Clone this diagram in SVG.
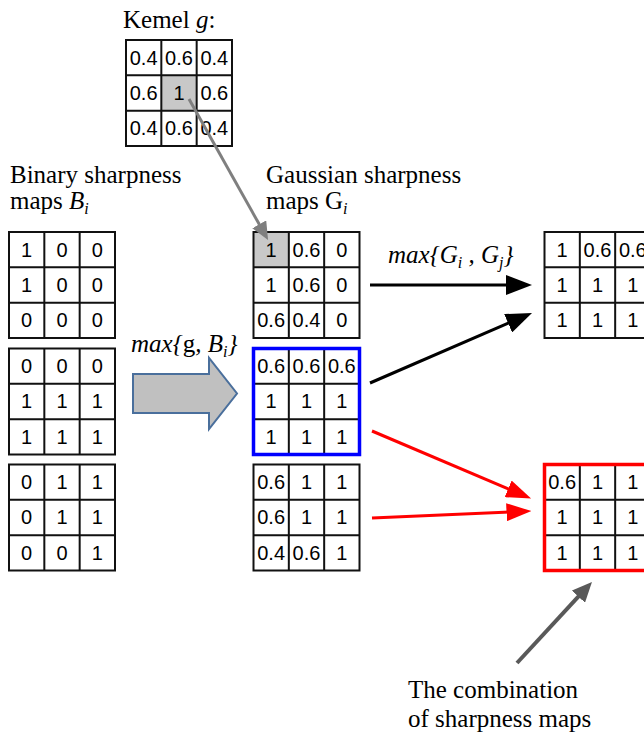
<svg xmlns="http://www.w3.org/2000/svg" xmlns:xlink="http://www.w3.org/1999/xlink" width="644" height="734" viewBox="0 0 644 734">
  <style>
    .lbl { font-family: "Liberation Serif", "Times New Roman", serif; font-size: 25px; fill: #000; }
    .it { font-style: italic; }
    .num { font-family: "Liberation Sans", Arial, sans-serif; font-size: 20px; fill: #000; text-anchor: middle; }
    .gl { fill: none; stroke: #111; stroke-width: 2; }
    .hl { fill: #c8c8c8; }
    .blue { fill: none; stroke: #0000ff; stroke-width: 3.5; }
    .red { fill: none; stroke: #ff0000; stroke-width: 3.5; }
    .k { stroke: #000; stroke-width: 3; fill: none; }
    .r { stroke: #ff0000; stroke-width: 3; fill: none; }
    .g { stroke: #7f7f7f; stroke-width: 3; fill: none; }
    .dg { stroke: #595959; stroke-width: 4; fill: none; }
  </style>
  <defs>
    <!-- 3x3 grid frame, 106 px square -->
    <g id="grid">
      <rect class="gl" x="0" y="0" width="106" height="106"/>
      <path class="gl" d="M35.33,0V106M70.67,0V106M0,35.33H106M0,70.67H106"/>
    </g>
    <marker id="ah-k" viewBox="0 0 26 20" markerWidth="26" markerHeight="20" refX="4" refY="10" orient="auto" markerUnits="userSpaceOnUse">
      <path d="M0,0 L26,10 L0,20 z" fill="#000"/>
    </marker>
    <marker id="ah-r" viewBox="0 0 25 18" markerWidth="25" markerHeight="18" refX="4" refY="9" orient="auto" markerUnits="userSpaceOnUse">
      <path d="M0,0 L25,9 L0,18 z" fill="#ff0000"/>
    </marker>
    <marker id="ah-g" viewBox="0 0 18 16" markerWidth="18" markerHeight="16" refX="4" refY="8" orient="auto" markerUnits="userSpaceOnUse">
      <path d="M0,0 L18,8 L0,16 z" fill="#7f7f7f"/>
    </marker>
    <marker id="ah-dg" viewBox="0 0 20 18" markerWidth="20" markerHeight="18" refX="4" refY="9" orient="auto" markerUnits="userSpaceOnUse">
      <path d="M0,0 L20,9 L0,18 z" fill="#595959"/>
    </marker>
  </defs>
  <rect x="0" y="0" width="644" height="734" fill="#fff"/>

  <!-- labels -->
  <g id="labels">
    <text class="lbl" x="123" y="28">Kemel <tspan class="it">g</tspan>:</text>
    <text class="lbl" x="10" y="183">Binary sharpness</text>
    <text class="lbl" x="10" y="209">maps <tspan class="it">B</tspan><tspan class="it" font-size="16" dy="5">i</tspan></text>
    <text class="lbl" x="266" y="183">Gaussian sharpness</text>
    <text class="lbl" x="266" y="209">maps G<tspan class="it" font-size="16" dy="5">i</tspan></text>
    <text class="lbl it" x="131" y="352">max{<tspan font-style="normal">g</tspan>, B<tspan font-size="16" dy="5">i</tspan><tspan dy="-5">}</tspan></text>
    <text class="lbl it" x="388" y="263">max{G<tspan font-size="16" dy="5">i</tspan><tspan dy="-5"> , G</tspan><tspan font-size="16" dy="5">j</tspan><tspan dy="-5">}</tspan></text>
    <text class="lbl" x="408" y="698">The combination</text>
    <text class="lbl" x="408" y="727">of sharpness maps</text>
  </g>

  <!-- kernel g -->
  <g id="kernel" transform="translate(126,40)">
    <rect class="hl" x="35.33" y="35.33" width="35.33" height="35.33"/>
    <use xlink:href="#grid"/>
    <text class="num" x="17.67" y="24.5">0.4</text><text class="num" x="53" y="24.5">0.6</text><text class="num" x="88.33" y="24.5">0.4</text>
    <text class="num" x="17.67" y="59.8">0.6</text><text class="num" x="53" y="59.8">1</text><text class="num" x="88.33" y="59.8">0.6</text>
    <text class="num" x="17.67" y="95.2">0.4</text><text class="num" x="53" y="95.2">0.6</text><text class="num" x="88.33" y="95.2">0.4</text>
  </g>

  <!-- binary sharpness maps -->
  <g id="B1" transform="translate(9,232)">
    <use xlink:href="#grid"/>
    <text class="num" x="17.67" y="24.5">1</text><text class="num" x="53" y="24.5">0</text><text class="num" x="88.33" y="24.5">0</text>
    <text class="num" x="17.67" y="59.8">1</text><text class="num" x="53" y="59.8">0</text><text class="num" x="88.33" y="59.8">0</text>
    <text class="num" x="17.67" y="95.2">0</text><text class="num" x="53" y="95.2">0</text><text class="num" x="88.33" y="95.2">0</text>
  </g>
  <g id="B2" transform="translate(9,348.5)">
    <use xlink:href="#grid"/>
    <text class="num" x="17.67" y="24.5">0</text><text class="num" x="53" y="24.5">0</text><text class="num" x="88.33" y="24.5">0</text>
    <text class="num" x="17.67" y="59.8">1</text><text class="num" x="53" y="59.8">1</text><text class="num" x="88.33" y="59.8">1</text>
    <text class="num" x="17.67" y="95.2">1</text><text class="num" x="53" y="95.2">1</text><text class="num" x="88.33" y="95.2">1</text>
  </g>
  <g id="B3" transform="translate(9,464.5)">
    <use xlink:href="#grid"/>
    <text class="num" x="17.67" y="24.5">0</text><text class="num" x="53" y="24.5">1</text><text class="num" x="88.33" y="24.5">1</text>
    <text class="num" x="17.67" y="59.8">0</text><text class="num" x="53" y="59.8">1</text><text class="num" x="88.33" y="59.8">1</text>
    <text class="num" x="17.67" y="95.2">0</text><text class="num" x="53" y="95.2">0</text><text class="num" x="88.33" y="95.2">1</text>
  </g>

  <!-- gaussian sharpness maps -->
  <g id="G1" transform="translate(253.5,232)">
    <rect class="hl" x="0" y="0" width="35.33" height="35.33"/>
    <use xlink:href="#grid"/>
    <text class="num" x="17.67" y="24.5">1</text><text class="num" x="53" y="24.5">0.6</text><text class="num" x="88.33" y="24.5">0</text>
    <text class="num" x="17.67" y="59.8">1</text><text class="num" x="53" y="59.8">0.6</text><text class="num" x="88.33" y="59.8">0</text>
    <text class="num" x="17.67" y="95.2">0.6</text><text class="num" x="53" y="95.2">0.4</text><text class="num" x="88.33" y="95.2">0</text>
  </g>
  <g id="G2" transform="translate(253.5,348.5)">
    <use xlink:href="#grid"/>
    <rect class="blue" x="0" y="0" width="106" height="106"/>
    <text class="num" x="17.67" y="24.5">0.6</text><text class="num" x="53" y="24.5">0.6</text><text class="num" x="88.33" y="24.5">0.6</text>
    <text class="num" x="17.67" y="59.8">1</text><text class="num" x="53" y="59.8">1</text><text class="num" x="88.33" y="59.8">1</text>
    <text class="num" x="17.67" y="95.2">1</text><text class="num" x="53" y="95.2">1</text><text class="num" x="88.33" y="95.2">1</text>
  </g>
  <g id="G3" transform="translate(253.5,464.5)">
    <use xlink:href="#grid"/>
    <text class="num" x="17.67" y="24.5">0.6</text><text class="num" x="53" y="24.5">1</text><text class="num" x="88.33" y="24.5">1</text>
    <text class="num" x="17.67" y="59.8">0.6</text><text class="num" x="53" y="59.8">1</text><text class="num" x="88.33" y="59.8">1</text>
    <text class="num" x="17.67" y="95.2">0.4</text><text class="num" x="53" y="95.2">0.6</text><text class="num" x="88.33" y="95.2">1</text>
  </g>

  <!-- combined maps -->
  <g id="M12" transform="translate(544.5,232)">
    <use xlink:href="#grid"/>
    <text class="num" x="17.67" y="24.5">1</text><text class="num" x="53" y="24.5">0.6</text><text class="num" x="88.33" y="24.5">0.6</text>
    <text class="num" x="17.67" y="59.8">1</text><text class="num" x="53" y="59.8">1</text><text class="num" x="88.33" y="59.8">1</text>
    <text class="num" x="17.67" y="95.2">1</text><text class="num" x="53" y="95.2">1</text><text class="num" x="88.33" y="95.2">1</text>
  </g>
  <g id="M23" transform="translate(544.5,464.5)">
    <use xlink:href="#grid"/>
    <rect class="red" x="0" y="0" width="106" height="106"/>
    <text class="num" x="17.67" y="24.5">0.6</text><text class="num" x="53" y="24.5">1</text><text class="num" x="88.33" y="24.5">1</text>
    <text class="num" x="17.67" y="59.8">1</text><text class="num" x="53" y="59.8">1</text><text class="num" x="88.33" y="59.8">1</text>
    <text class="num" x="17.67" y="95.2">1</text><text class="num" x="53" y="95.2">1</text><text class="num" x="88.33" y="95.2">1</text>
  </g>

  <!-- connectors -->
  <g id="connectors">
    <polygon points="133,374 209,374 209,358 237,393.5 209,429 209,413 133,413" fill="#c0c0c0" stroke="#4a6f9c" stroke-width="2"/>
    <line class="g" x1="189" y1="99" x2="261.2" y2="227.8" marker-end="url(#ah-g)"/>
    <line class="k" x1="370" y1="285" x2="510" y2="285" marker-end="url(#ah-k)"/>
    <line class="k" x1="370" y1="383" x2="511.8" y2="321.7" marker-end="url(#ah-k)"/>
    <line class="r" x1="372" y1="431" x2="511.8" y2="490.4" marker-end="url(#ah-r)"/>
    <line class="r" x1="372" y1="518" x2="510.5" y2="512" marker-end="url(#ah-r)"/>
    <line class="dg" x1="517" y1="663" x2="581.1" y2="593.7" marker-end="url(#ah-dg)"/>
  </g>
</svg>
